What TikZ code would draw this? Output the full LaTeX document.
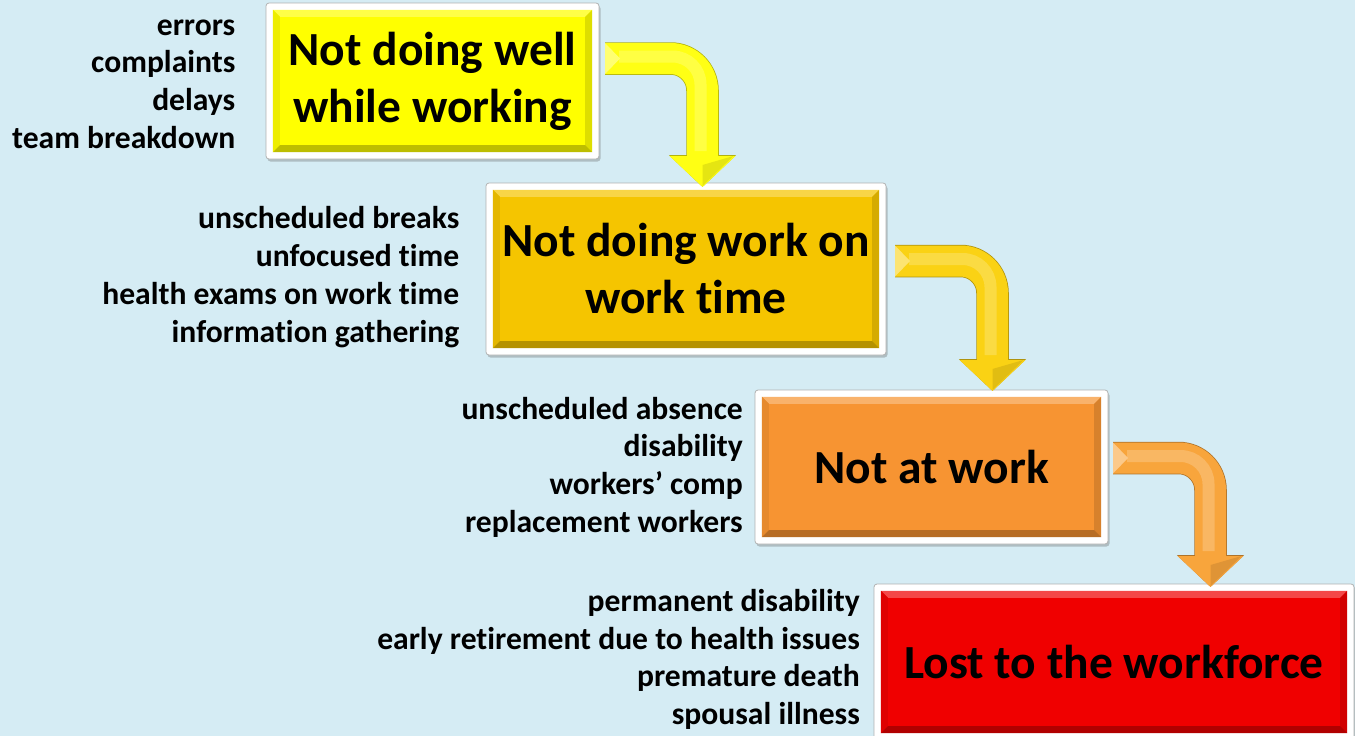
\documentclass[tikz,border=0pt]{standalone}
\usepackage{fontspec}
\setmainfont{Carlito}[Ligatures=NoCommon]
\usetikzlibrary{calc,arrows.meta,shadows}

\definecolor{bgblue}{RGB}{213,236,244}
\definecolor{stageA}{RGB}{255,255,0}
\definecolor{stageB}{RGB}{245,197,0}
\definecolor{stageC}{RGB}{247,148,50}
\definecolor{stageD}{RGB}{240,0,0}
\definecolor{arrowA}{RGB}{255,255,20}
\definecolor{arrowB}{RGB}{250,210,20}
\definecolor{arrowC}{RGB}{248,165,60}

\tikzset{
  stageframe/.style={draw=black!30, line width=0.8pt, fill=white, rounded corners=3pt,
    inner sep=0pt, drop shadow={shadow xshift=1.5pt, shadow yshift=-2.5pt, opacity=0.35, fill=black!60}},
  stagefill/.style={inner sep=0pt, draw=none},
  stagetext/.style={font=\fontsize{47.5}{57}\selectfont\bfseries, align=center, inner sep=0pt},
  sidetext/.style={font=\fontsize{31.6}{37.8}\selectfont\bfseries, inner sep=0pt, anchor=base east},
  bentarrow/.style={line width=31pt, draw=#1, rounded corners=32pt,
    -{Triangle[width=64pt,length=31pt]}},
}

% one stage: frame, bevelled coloured panel and its title
% #1 name, #2 centre, #3 width, #4 height, #5 colour, #6 title
\newcommand\stagebox[6]{%
  \node[stageframe, minimum width=#3+14pt, minimum height=#4+14pt] (#1f) at #2 {};
  \node[stagefill, fill=#5, minimum width=#3, minimum height=#4] (#1) at #2 {};
  \fill[#5!72!white] (#1.north west) -- (#1.north east) -- ($(#1.north east)+(-7,7)$) -- ($(#1.north west)+(7,7)$) -- cycle;
  \fill[#5!93!black] (#1.north west) -- ($(#1.north west)+(7,7)$) -- ($(#1.south west)+(7,-7)$) -- (#1.south west) -- cycle;
  \fill[#5!87!black] (#1.north east) -- ($(#1.north east)+(-7,7)$) -- ($(#1.south east)+(-7,-7)$) -- (#1.south east) -- cycle;
  \fill[#5!74!black] (#1.south west) -- ($(#1.south west)+(7,-7)$) -- ($(#1.south east)+(-7,-7)$) -- (#1.south east) -- cycle;
  \node[stagetext] (#1t) at (#1.center) {#6};
}

% a bent arrow from #1 to #2 with colour #3
\newcommand\bentconnector[3]{%
  \draw[bentarrow=#3!70!black, line width=32.5pt, -{Triangle[width=65.5pt,length=32pt]}] (#1) -| (#2);
  \draw[bentarrow=#3] (#1) -| (#2);
  \draw[line width=12pt, draw=#3!55!white, rounded corners=28pt, opacity=0.45, line cap=butt]
    ($(#1)+(14,-2)$) -| ($(#2)+(-2,-36)$);
  \fill[#3!60!white] ($(#1)+(0,-15.5)$) -- ($(#1)+(15,0)$) -- ($(#1)+(0,15.5)$) -- cycle;
  \fill[#3!90!black] ($(#2)+(0,-1)$) -- ($(#2)+(31,-31)$) -- ($(#2)+(0,-22)$) -- cycle;
}

\begin{document}
\begin{tikzpicture}[x=1pt, y=-1pt]
  \useasboundingbox (0,0) rectangle (1355,736);
  \fill[bgblue] (0,0) rectangle (1355,736);

  % the four stages
  \stagebox{s1}{(432.5,81)}{319pt}{142pt}{stageA}{Not doing well\\while working}
  \stagebox{s2}{(686,269)}{386pt}{158pt}{stageB}{Not doing work on\\work time}
  \stagebox{s3}{(931.5,467)}{339pt}{140pt}{stageC}{Not at work}
  \stagebox{s4}{(1114,662)}{466pt}{142pt}{stageD}{Lost to the workforce}

  % connectors between the stages
  \coordinate (a1s) at (605,58.5);
  \coordinate (a1e) at (702.5,187);
  \coordinate (a2s) at (895,261);
  \coordinate (a2e) at (992.5,391);
  \coordinate (a3s) at (1113,458);
  \coordinate (a3e) at (1210.5,587);
  \bentconnector{a1s}{a1e}{arrowA}
  \bentconnector{a2s}{a2e}{arrowB}
  \bentconnector{a3s}{a3e}{arrowC}

  % side notes for each stage
  \foreach \t [count=\i] in {errors, complaints, delays, team breakdown}
    \node[sidetext] (n1-\i) at (235.5, {35+37.7*(\i-1)}) {\t};
  \foreach \t [count=\i] in {unscheduled breaks, unfocused time, health exams on work time, information gathering}
    \node[sidetext] (n2-\i) at (459.5, {228.3+38.1*(\i-1)}) {\t};
  \foreach \t [count=\i] in {unscheduled absence, disability, workers’ comp, replacement workers}
    \node[sidetext] (n3-\i) at (743, {419.3+37.6*(\i-1)}) {\t};
  \foreach \t [count=\i] in {permanent disability, early retirement due to health issues, premature death, spousal illness}
    \node[sidetext] (n4-\i) at (860, {611.7+37.6*(\i-1)}) {\t};
\end{tikzpicture}
\end{document}
